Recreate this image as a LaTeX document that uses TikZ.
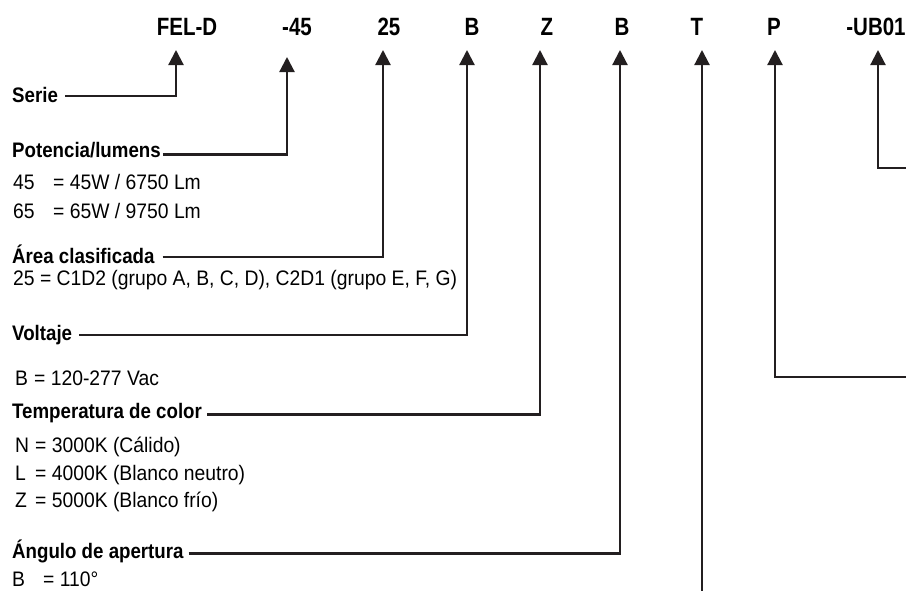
\documentclass[tikz,border=0pt]{standalone}
\usepackage{fontspec}
\setmainfont{Liberation Sans}
\newfontfamily\codefont{Liberation Sans}[FakeStretch=0.82]
\newfontfamily\headfont{Liberation Sans}[FakeStretch=0.89]
\newfontfamily\descfont{Liberation Sans}[FakeStretch=0.92]
\usepackage{tikz}
\usetikzlibrary{arrows.meta}
\definecolor{ink}{RGB}{35,31,32}

\begin{document}
\begin{tikzpicture}[
  x=1pt,y=-1pt,
  code/.style={font=\codefont\bfseries\fontsize{25}{30}\selectfont,inner sep=0pt,anchor=base},
  head/.style={font=\headfont\bfseries\fontsize{21}{25}\selectfont,inner sep=0pt,anchor=base west},
  desc/.style={font=\descfont\fontsize{21}{25}\selectfont,inner sep=0pt,anchor=base west},
  ar/.style={draw=ink,line width=2.2pt,-{Triangle[length=15pt,width=15pt]}}
]
\useasboundingbox (0,0) rectangle (906,590);

% code
\node[code] (feld) at (187,35) {FEL-D};
\node[code] (pot) at (297,35) {-45};
\node[code] (area) at (389,35) {25};
\node[code] (volt) at (472,35) {B};
\node[code] (temp) at (547,35) {Z};
\node[code] (ang) at (622,35) {B};
\node[code] (codt) at (697,35) {T};
\node[code] (codp) at (774,35) {P};
\node[code] (codub) at (876,35) {-UB01};

% arrow tips under the code
\coordinate (tfeld) at (176,50);
\coordinate (tpot) at (287,57);
\coordinate (tarea) at (383,50);
\coordinate (tvolt) at (467,50);
\coordinate (ttemp) at (540,50);
\coordinate (tang) at (620,50);
\coordinate (tcodt) at (702,50);
\coordinate (tcodp) at (775,50);
\coordinate (tcodub) at (878,50);

% headings and values
\node[head] (serie) at (12,102) {Serie};
\node[head] (hpot) at (12,157) {Potencia/lumens};
\node[desc] (k45) at (13,189) {45};
\node[desc] (v45) at (53,189) {= 45W / 6750 Lm};
\node[desc] (k65) at (13,218) {65};
\node[desc] (v65) at (53,218) {= 65W / 9750 Lm};
\node[head] (harea) at (12,263) {Área clasificada};
\node[desc] (v25) at (13,285) {25 = C1D2 (grupo A, B, C, D), C2D1 (grupo E, F, G)};
\node[head] (hvolt) at (12,340) {Voltaje};
\node[desc] (kb) at (15,385) {B};
\node[desc] (vb) at (34,385) {= 120-277 Vac};
\node[head] (htemp) at (12,418) {Temperatura de color};
\node[desc] (kn) at (15,452) {N};
\node[desc] (vn) at (35,452) {= 3000K (Cálido)};
\node[desc] (kl) at (15,480) {L};
\node[desc] (vl) at (35,480) {= 4000K (Blanco neutro)};
\node[desc] (kz) at (15,507) {Z};
\node[desc] (vz) at (35,507) {= 5000K (Blanco frío)};
\node[head] (hang) at (12,558) {Ángulo de apertura};
\node[desc] (kang) at (12,586) {B};
\node[desc] (vang) at (43,586) {= 110°};

% free ends at the border
\coordinate (endt) at (702,592);
\coordinate (endp) at (908,377);
\coordinate (endub) at (908,168);

\draw[ar] ([xshift=7pt,yshift=6pt]serie.base east) -| (tfeld);
\draw[ar] ([xshift=2pt,yshift=2.5pt]hpot.base east) -| (tpot);
\draw[ar] ([xshift=8pt,yshift=6pt]harea.base east) -| (tarea);
\draw[ar] ([xshift=7pt,yshift=5pt]hvolt.base east) -| (tvolt);
\draw[ar] ([xshift=5pt,yshift=3.5pt]htemp.base east) -| (ttemp);
\draw[ar] ([xshift=5pt,yshift=4.5pt]hang.base east) -| (tang);
\draw[ar] (endt) -- (tcodt);
\draw[ar] (endp) -| (tcodp);
\draw[ar] (endub) -| (tcodub);
\end{tikzpicture}
\end{document}
